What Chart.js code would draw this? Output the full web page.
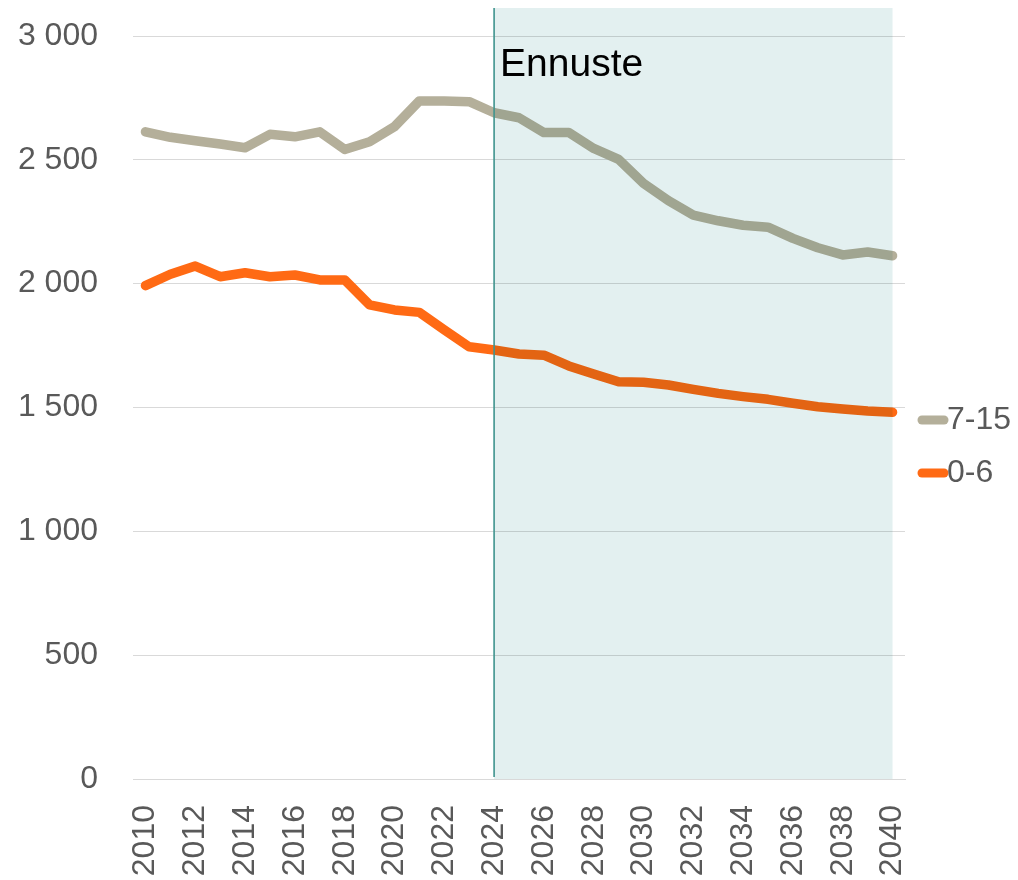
<!DOCTYPE html>
<html>
<head>
<meta charset="utf-8">
<script src="https://cdn.jsdelivr.net/npm/chart.js@4"></script>
<style>
html,body{margin:0;padding:0;background:#fff;}
canvas{display:block;}
</style>
</head>
<body>
<canvas id="c" width="1018" height="880"></canvas>
<script>
const years = ['2010','2011','2012','2013','2014','2015','2016','2017','2018','2019','2020','2021','2022','2023','2024','2025','2026','2027','2028','2029','2030','2031','2032','2033','2034','2035','2036','2037','2038','2039','2040'];
const age7_15 = [2613,2591,2577,2564,2549,2603,2593,2613,2542,2573,2634,2738,2738,2735,2690,2670,2610,2610,2546,2502,2405,2335,2277,2254,2236,2228,2183,2145,2116,2128,2113];
const age0_6 = [1992,2038,2071,2028,2044,2028,2035,2015,2015,1914,1894,1884,1813,1745,1732,1716,1711,1668,1635,1604,1602,1591,1573,1557,1544,1533,1517,1503,1494,1486,1481];
const seriesLabels = ['7-15','0-6'];
const seriesColors = ['#b4af9a','#ff6a14'];
const forecastStart = '2024';
const forecastEnd = '2040';
const forecastTop = 3113;
const forecastLabel = 'Ennuste';
const yTicks = [0,500,1000,1500,2000,2500,3000];

const FONT = '"Liberation Sans", Arial, sans-serif';
const TXT = '#595959';

const fmt = v => String(v).replace(/\B(?=(\d{3})+(?!\d))/g, ' ');

const forecastPlugin = {
  id: 'forecast',
  afterDatasetsDraw(chart) {
    const ctx = chart.ctx;
    const x = chart.scales.x, y = chart.scales.y;
    const x0 = x.getPixelForValue(years.indexOf(forecastStart));
    const x1 = x.getPixelForValue(years.indexOf(forecastEnd));
    const yt = y.getPixelForValue(forecastTop);
    const yb = y.getPixelForValue(0);
    ctx.save();
    ctx.globalCompositeOperation = 'multiply';
    ctx.fillStyle = 'rgb(227,240,240)';
    ctx.fillRect(x0, yt, x1 - x0, yb - yt);
    ctx.restore();
    ctx.save();
    ctx.strokeStyle = '#3f948e';
    ctx.lineWidth = 1.6;
    ctx.beginPath();
    ctx.moveTo(x0, yt);
    ctx.lineTo(x0, yb - 2);
    ctx.stroke();
    ctx.fillStyle = '#000';
    ctx.font = '39px ' + FONT;
    ctx.textAlign = 'left';
    ctx.textBaseline = 'alphabetic';
    ctx.fillText(forecastLabel, x0 + 6, 76);
    ctx.restore();
  },
  afterDraw(chart) {
    const ctx = chart.ctx;
    const rows = [{i:0, y:420}, {i:1, y:473}];
    ctx.save();
    rows.forEach(r => {
      ctx.strokeStyle = seriesColors[r.i];
      ctx.lineWidth = 9;
      ctx.lineCap = 'round';
      ctx.beginPath();
      ctx.moveTo(922, r.y);
      ctx.lineTo(944, r.y);
      ctx.stroke();
      ctx.fillStyle = TXT;
      ctx.font = '32px ' + FONT;
      ctx.textAlign = 'left';
      ctx.textBaseline = 'middle';
      ctx.fillText(seriesLabels[r.i], 947, r.y);
    });
    ctx.restore();
  }
};

new Chart(document.getElementById('c'), {
  type: 'line',
  data: {
    labels: years,
    datasets: [
      { label: seriesLabels[0], data: age7_15, borderColor: seriesColors[0], backgroundColor: seriesColors[0] },
      { label: seriesLabels[1], data: age0_6, borderColor: seriesColors[1], backgroundColor: seriesColors[1] }
    ]
  },
  options: {
    responsive: false,
    animation: false,
    devicePixelRatio: 1,
    layout: { padding: { top: 36, right: 113, left: 0, bottom: 0 } },
    elements: {
      line: { borderWidth: 9.5, tension: 0, borderCapStyle: 'round', borderJoinStyle: 'round' },
      point: { radius: 0, hoverRadius: 0 }
    },
    plugins: { legend: { display: false }, tooltip: { enabled: false }, title: { display: false } },
    scales: {
      x: {
        type: 'category',
        offset: true,
        grid: { display: false, drawTicks: false },
        border: { display: true, color: '#d9d9d9', width: 1 },
        ticks: {
          autoSkip: false,
          minRotation: 90,
          maxRotation: 90,
          padding: 26,
          color: TXT,
          font: { family: FONT, size: 32 },
          callback: function(val, idx) { const l = years[idx]; return (parseInt(l) % 2 === 0) ? l : ''; }
        },
        afterFit(scale) { scale.height = 101; scale.paddingLeft = 0; scale.paddingRight = 0; }
      },
      y: {
        min: 0,
        max: 3000,
        afterBuildTicks(scale) { scale.ticks = yTicks.map(v => ({ value: v })); },
        grid: { color: '#d9d9d9', lineWidth: 1, drawTicks: false },
        border: { display: false },
        ticks: {
          padding: 35,
          color: TXT,
          font: { family: FONT, size: 32 },
          callback: v => fmt(v)
        },
        afterFit(scale) { scale.width = 133; scale.paddingTop = 0; scale.paddingBottom = 0; }
      }
    }
  },
  plugins: [forecastPlugin]
});
</script>
</body>
</html>
